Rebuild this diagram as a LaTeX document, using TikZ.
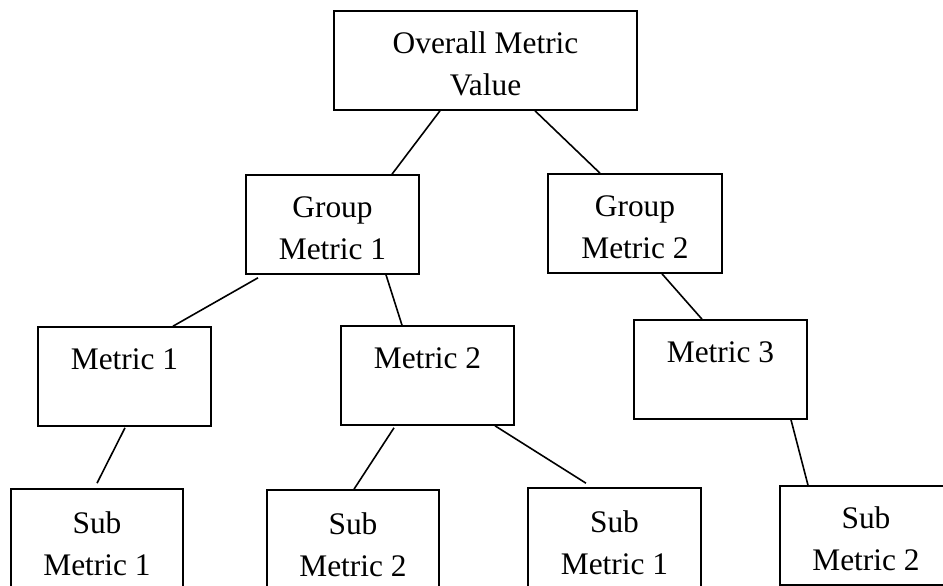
\documentclass[tikz,border=0pt]{standalone}
\usepackage{fontspec}
\setmainfont{Liberation Serif}
\newcommand\ms{\rule[-7pt]{0pt}{42pt}}
\begin{document}
\begin{tikzpicture}[x=1pt,y=-1pt,
  box/.style={draw, line width=1.6pt, inner sep=0pt, align=center,
    minimum width=173pt, minimum height=99pt,
    font=\fontsize{31.4}{42}\selectfont},
  link/.style={line width=1.6pt}]
\useasboundingbox (0,0) rectangle (943,586);
\clip (0,0) rectangle (943,586);
\node[box, minimum width=303pt] (ov) at (485.5,60.5) {\ms Overall Metric\\\ms Value};
\node[box] (gm1) at (332.5,224.5) {\ms Group\\\ms Metric 1};
\node[box, minimum width=174pt] (gm2) at (635,223.5) {\ms Group\\\ms Metric 2};
\node[box] (m1) at (124.5,376.5) {\ms Metric 1\\\ms};
\node[box] (m2) at (427.5,375.5) {\ms Metric 2\\\ms};
\node[box] (m3) at (720.5,369.5) {\ms Metric 3\\\ms};
\node[box, minimum width=172pt, minimum height=102pt] (s1) at (97,540) {\ms Sub\\\ms Metric 1};
\node[box, minimum width=172pt, minimum height=102pt] (s2) at (353,541) {\ms Sub\\\ms Metric 2};
\node[box, minimum width=173pt, minimum height=102pt] (s3) at (614.5,539) {\ms Sub\\\ms Metric 1};
\node[box, minimum width=172pt] (s4) at (866,535.5) {\ms Sub\\\ms Metric 2};
\draw[link] ([xshift=-45.5pt]ov.south) -- ([xshift=59.5pt]gm1.north);
\draw[link] ([xshift=49.5pt]ov.south) -- ([xshift=-35pt]gm2.north);
\draw[link] ([shift={(-74.5,3)}]gm1.south) -- ([xshift=48.5pt]m1.north);
\draw[link] ([xshift=53.5pt]gm1.south) -- ([xshift=-25.5pt]m2.north);
\draw[link] ([xshift=27pt]gm2.south) -- ([xshift=-18.5pt]m3.north);
\draw[link] ([shift={(0.5,1)}]m1.south) -- ([shift={(0,-5)}]s1.north);
\draw[link] ([shift={(-33.5,2)}]m2.south) -- ([xshift=1pt]s2.north);
\draw[link] ([xshift=67.5pt]m2.south) -- ([shift={(-28.5,-4)}]s3.north);
\draw[link] ([xshift=70.5pt]m3.south) -- ([xshift=-58pt]s4.north);
\end{tikzpicture}
\end{document}
